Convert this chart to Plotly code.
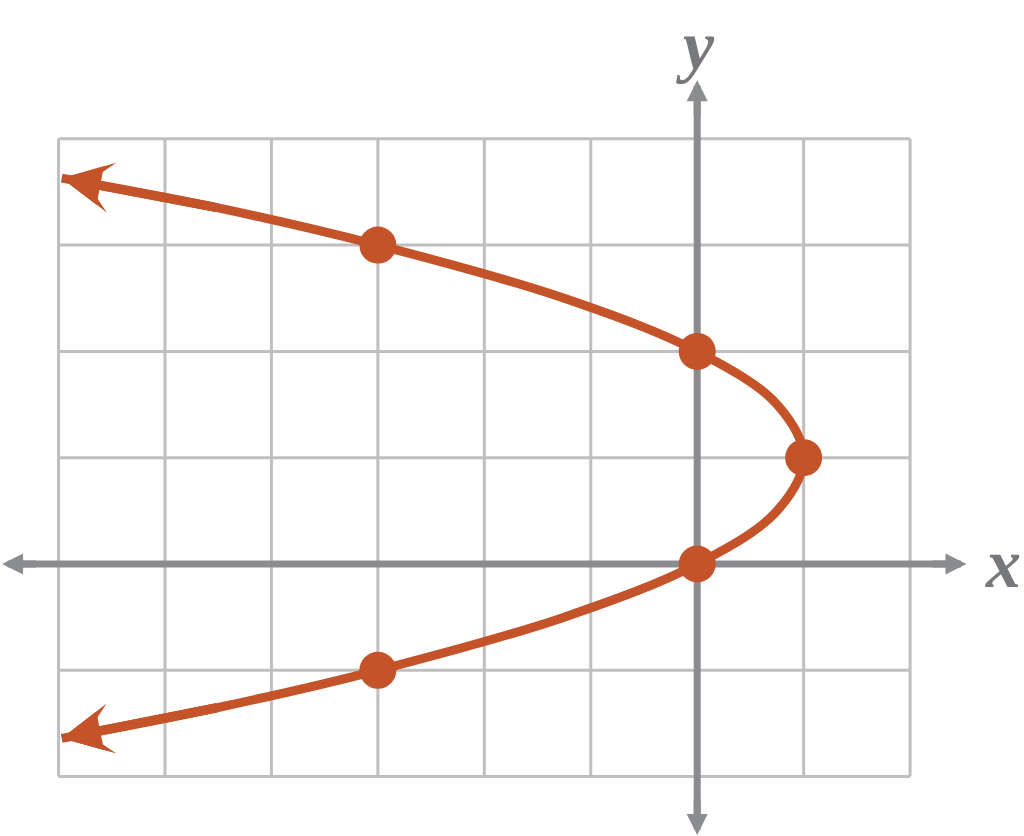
import plotly.graph_objects as go

# grid positions (data units)
grid_x = [-6, -5, -4, -3, -2, -1, 0, 1, 2]
grid_y = [-2, -1, 0, 1, 2, 3, 4]

# parabola, from upper arrow tip to lower arrow tip
curve_x = [-5.97, -4.5, -3, -1.25, 0, 0.75, 1, 0.75, 0, -1.25, -3, -4.5, -5.97]
curve_y = [3.63, 3.35, 3, 2.5, 2, 1.5, 1, 0.5, 0, -0.5, -1, -1.35, -1.64]

# highlighted points
pt_x = [-3, 0, 1, 0, -3]
pt_y = [3, 2, 1, 0, -1]

orange = "#c4532a"
axis_gray = "#8b8c8f"
grid_gray = "#bfbfc1"

fig = go.Figure()

fig.add_trace(go.Scatter(x=curve_x, y=curve_y, mode="lines",
                         line=dict(color=orange, width=9, shape="spline", smoothing=1.0),
                         hoverinfo="skip"))
fig.add_trace(go.Scatter(x=pt_x, y=pt_y, mode="markers",
                         marker=dict(color=orange, size=37, line=dict(width=0))))

shapes = []
for gx in grid_x:
    shapes.append(dict(type="line", x0=gx, x1=gx, y0=grid_y[0], y1=grid_y[-1],
                       line=dict(color=grid_gray, width=3), layer="below"))
for gy in grid_y:
    shapes.append(dict(type="line", x0=grid_x[0], x1=grid_x[-1], y0=gy, y1=gy,
                       line=dict(color=grid_gray, width=3), layer="below"))
# axes
shapes.append(dict(type="line", x0=-6.4, x1=2.4, y0=0, y1=0,
                   line=dict(color=axis_gray, width=7), layer="below"))
shapes.append(dict(type="line", x0=0, x1=0, y0=-2.4, y1=4.4,
                   line=dict(color=axis_gray, width=7), layer="below"))

annotations = []
# axis arrowheads
for tip, tail in [((2.53, 0), (2.2, 0)), ((-6.53, 0), (-6.2, 0)),
                  ((0, 4.55), (0, 4.2)), ((0, -2.55), (0, -2.2))]:
    annotations.append(dict(x=tip[0], y=tip[1], ax=tail[0], ay=tail[1],
                            xref="x", yref="y", axref="x", ayref="y", text="",
                            showarrow=True, arrowhead=2, arrowsize=0.6,
                            arrowwidth=7, arrowcolor=axis_gray, standoff=0))
# curve arrowheads: barbed head plus a filled triangle to make the notch shallow
for tip, tail in [((curve_x[0], curve_y[0]), (curve_x[1], curve_y[1])),
                  ((curve_x[-1], curve_y[-1]), (curve_x[-2], curve_y[-2]))]:
    for head, size in [(3, 0.94), (2, 0.87)]:
        annotations.append(dict(x=tip[0], y=tip[1], ax=tail[0], ay=tail[1],
                                xref="x", yref="y", axref="x", ayref="y", text="",
                                showarrow=True, arrowhead=head, arrowsize=size,
                                arrowwidth=9, arrowcolor=orange, standoff=0))
# axis letters
lab_font = dict(family="Liberation Serif", size=70, color="#77787b")
annotations.append(dict(x=2.876, y=0.0, xref="x", yref="y", text="<b><i>x</i></b>",
                        showarrow=False, font=lab_font, xanchor="center", yanchor="middle"))
annotations.append(dict(x=-0.02, y=4.88, xref="x", yref="y", text="<b><i>y</i></b>",
                        showarrow=False, font=lab_font, xanchor="center", yanchor="middle"))

fig.update_layout(
    width=1024, height=836,
    margin=dict(l=0, r=0, t=0, b=0),
    paper_bgcolor="white", plot_bgcolor="white",
    showlegend=False,
    shapes=shapes, annotations=annotations,
    xaxis=dict(range=[-6.55, 3.07], visible=False, fixedrange=True),
    yaxis=dict(range=[-2.559, 5.306], visible=False, fixedrange=True),
)

# drop the browser's default body margin so the figure sits at the page corner
fig.write_html("out.html", config={"displayModeBar": False},
               post_script="document.body.style.margin='0';document.body.style.overflow='hidden';")
